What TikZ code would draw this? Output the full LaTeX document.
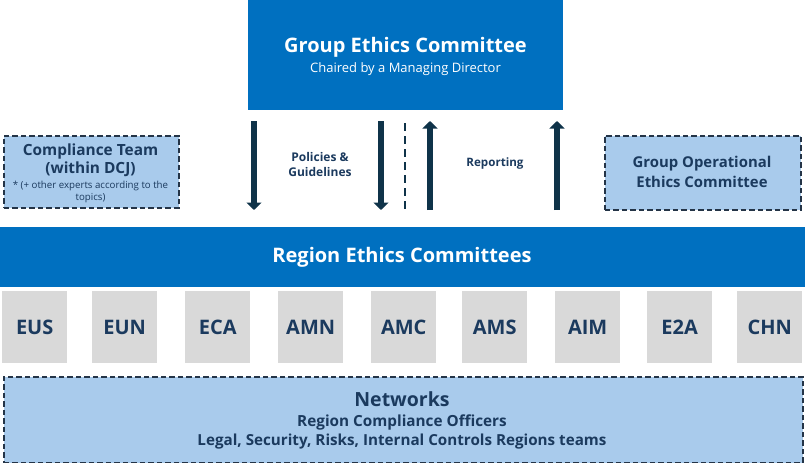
\documentclass[tikz,border=0pt]{standalone}
\usepackage{fontspec}
\setmainfont{Open Sans}
\usetikzlibrary{arrows.meta}
\definecolor{topblue}{HTML}{0070C0}
\definecolor{lightblue}{HTML}{A9CBEC}
\definecolor{boxgray}{HTML}{D9D9D9}
\definecolor{navy}{HTML}{1B3A5E}
\definecolor{arrowdark}{HTML}{0F3349}
\definecolor{dashdark}{HTML}{243447}
\tikzset{
  bluebox/.style={fill=topblue, draw=none},
  dashbox/.style={fill=lightblue, draw=dashdark, line width=1.8pt, dash pattern=on 5.5pt off 3pt},
  graybox/.style={fill=boxgray, draw=none, minimum width=65pt, minimum height=72pt, inner sep=0pt, text=navy, font=\bfseries\fontsize{20}{24}\selectfont},
  flowarrow/.style={draw=arrowdark, line width=6.8pt, -{Triangle[width=15pt,length=7.5pt]}},
  lbl/.style={text=navy, font=\bfseries\fontsize{12}{15}\selectfont, align=center},
}
\begin{document}
\begin{tikzpicture}[x=1pt,y=-1pt]
\useasboundingbox (0,0) rectangle (807,463);
% top box
\node[bluebox, minimum width=315pt, minimum height=110pt, anchor=north west, inner sep=0pt] (gec) at (248,0) {};
\node[text=white, font=\bfseries\fontsize{20}{24}\selectfont] (gect) at (405.5,47) {Group Ethics Committee};
\node[text=white, font=\fontsize{13}{16}\selectfont] (gecs) at (405.5,69) {Chaired by a Managing Director};
% left dashed box
\node[dashbox, minimum width=175pt, minimum height=72pt, anchor=north west, inner sep=0pt] (ct) at (3,135) {};
\node[text=navy, font=\bfseries\fontsize{15.4}{18}\selectfont, align=center] (ctt) at (90.5,160) {Compliance Team\\(within DCJ)};
\node[text=navy, font=\fontsize{9.7}{12}\selectfont, align=center] (cts) at (90.5,192) {* (+ other experts according to the\\topics)};
% right dashed box
\node[dashbox, minimum width=196pt, minimum height=74pt, anchor=north west, inner sep=0pt] (goec) at (604,135) {};
\node[text=navy, font=\bfseries\fontsize{14.9}{20}\selectfont, align=center] (goect) at (702,172) {Group Operational\\Ethics Committee};
% arrows
\coordinate (a1t) at (254,121); \coordinate (a1b) at (254,210);
\coordinate (a2t) at (381,121); \coordinate (a2b) at (381,210);
\coordinate (a3t) at (430,121); \coordinate (a3b) at (430,210);
\coordinate (a4t) at (557,121); \coordinate (a4b) at (557,210);
\coordinate (dt) at (405,123); \coordinate (db) at (405,209);
\draw[flowarrow] (a1t) -- (a1b);
\draw[flowarrow] (a2t) -- (a2b);
\draw[flowarrow] (a3b) -- (a3t);
\draw[flowarrow] (a4b) -- (a4t);
\draw[draw=arrowdark, line width=1.5pt, dash pattern=on 8pt off 5pt] (dt) -- (db);
\node[lbl] (pg) at (320,164) {Policies \&\\Guidelines};
\node[lbl, font=\bfseries\fontsize{11.6}{15}\selectfont] (rep) at (495,163) {Reporting};
% region bar
\node[bluebox, minimum width=805pt, minimum height=60pt, anchor=north west, inner sep=0pt] (rec) at (0,227) {};
\node[text=white, font=\bfseries\fontsize{20}{24}\selectfont] (rect) at (402,257) {Region Ethics Committees};
% gray boxes
\node[graybox, anchor=north west] (eus) at (2,291) {EUS};
\node[graybox, anchor=north west] (eun) at (92,291) {EUN};
\node[graybox, anchor=north west] (eca) at (185,291) {ECA};
\node[graybox, anchor=north west] (amn) at (278,291) {AMN};
\node[graybox, anchor=north west] (amc) at (371,291) {AMC};
\node[graybox, anchor=north west] (ams) at (462,291) {AMS};
\node[graybox, anchor=north west] (aim) at (555,291) {AIM};
\node[graybox, anchor=north west] (e2a) at (647,291) {E2A};
\node[graybox, anchor=north west] (chn) at (737,291) {CHN};
% networks
\node[dashbox, minimum width=799pt, minimum height=86pt, anchor=north west, inner sep=0pt] (net) at (3,376) {};
\node[text=navy, font=\bfseries\fontsize{19.5}{22}\selectfont] (nett) at (402,399) {Networks};
\node[text=navy, font=\bfseries\fontsize{15.3}{18}\selectfont] (net1) at (402,422) {Region Compliance Officers};
\node[text=navy, font=\bfseries\fontsize{15.2}{18}\selectfont] (net2) at (402,442) {Legal, Security, Risks, Internal Controls Regions teams};
\end{tikzpicture}
\end{document}
